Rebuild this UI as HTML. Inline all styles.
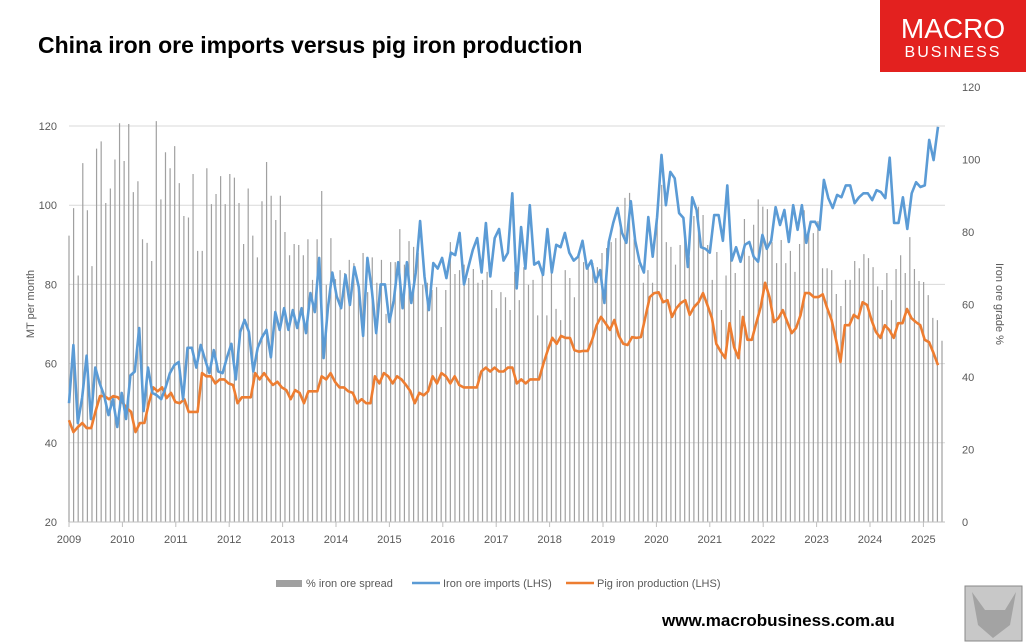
<!DOCTYPE html>
<html><head><meta charset="utf-8"><style>
body{margin:0;background:#fff;font-family:"Liberation Sans",sans-serif;}
#wrap{position:relative;width:1026px;height:644px;overflow:hidden;}
</style></head><body>
<div id="wrap">
<svg id="chart" width="1026" height="644"></svg>
</div>
<script>
const yearLabels=["2009","2010","2011","2012","2013","2014","2015","2016","2017","2018","2019","2020","2021","2022","2023","2024","2025"];
const leftTicks=[20,40,60,80,100,120];
const rightTicks=[0,20,40,60,80,100,120];
const imports=[50,64.7,45,51.5,62,46,59,55,52,47,51,44,52.6,46,57,58,69,48,59,52.6,52,51,54,57.6,59.6,60.4,51,64,64,59,64.7,61,57.6,63.4,58,57.6,61.6,65,56,68,71,68,58,64,66.7,68.5,61.6,73,68.5,74,68.5,
73.5,69,74,67.7,77.8,73,86.7,61.4,74,83,77,74,82.4,74.8,84.4,79.4,67,86.7,78.6,67.7,80,80,70.5,76,85.6,74,85.6,75.3,82.9,96,82,73.5,85.4,84,86.7,81.6,88,87.4,93,80,84.4,88.7,91.7,83,95.5,82,91.7,94,86,88,103,79,94.5,84,
100,85,85.7,82.4,94,83,90,89.4,93,88,86,87,91,84,86,80.6,83.6,75.3,90.7,95.5,99.3,93,90.5,101,91,85.7,83,97,87,97,112.7,100,108.4,106.8,98,96.8,84.4,102,98.8,89.4,89,88,97.5,97.5,91,105,86,89.4,
85.7,90,90.7,87,85.7,92.5,89,91,99.5,95,98.8,90.7,100,93.8,100,90.5,95.8,95.8,93.8,106.4,101.8,99.3,102.6,102,105,105,100.5,102,103,103,101.3,103.8,103.3,101.8,112,95.5,95.5,102,94,103,105.8,104.6,105,116.5,111.4,119.8];
const pigIron=[45.7,42.7,44,45,43.7,43.7,48,51.8,51.8,51,51.8,51.5,50.3,48.8,47.8,42.7,45,45,50,54,53,54,51.3,52.6,50.3,50,51,47.8,47.8,47.8,57.6,56.8,56.8,55,56,56,55,54.6,50,51.5,51.5,51.5,57.6,56,57.6,56,54.6,55.4,54,53.3,51,
53.3,52.6,50,53,53,53,56.8,56,57.6,55.4,54,54,53,52.6,50,51,50,50,56.8,55,57.6,56.8,55,56.8,56,54.6,53,50,52.6,52,53,56.8,55,57.6,56.8,55,56.8,54.6,54,54,54,54,58,59,58,59,58,58,59,59,55,56,
55,56,56,56,60,63.4,66.5,65,67,66.5,66.5,63.4,63,63.2,63.2,66,69.7,71.8,70.2,68.5,71,67,65,64.7,66.7,66.5,66.7,71.8,76.8,77.8,78,75.5,76,71.8,74,75.3,76,72.3,74.3,75.5,77.8,74.8,71.5,65,63,61.4,70.2,
64.2,61.4,71.8,66,66,70.2,74.3,80.4,76.8,70.5,71.5,73.5,70.5,67.7,69,72.3,77.8,77.8,76.8,76.8,77.5,74,71,66,60.4,69.7,69.7,72.3,71.5,75.5,74.8,71,68,66.5,69.7,68.5,66.5,70.2,70.2,73.8,71.5,70.5,69.7,66,65.4,62.6,59.6];
const spread=[79,86.6,68,99,86,70.6,103,105,88,92,100,110,99.6,109.8,91,94,78,77,72,110.6,89,102,97.6,103.7,93.5,84.4,84,96,74.8,74.8,97.6,87.7,90.5,95.4,87.7,96,95,88,76.7,92,79,73,88.5,99.3,90,83.3,90,80,73.6,76.7,
76.4,73.6,78,66.8,78,91.3,65.4,78.3,67,69.5,68.7,72.3,71.4,64,74.2,63.4,73,66,72.3,57.4,71.7,71.7,80.8,71,77.5,75.9,74.2,65.4,66,64,64.8,53.8,64,77.2,68.4,69.5,71,67.3,69.8,66,66.8,69,64,59,63.4,62,58.5,69,61.2,70.3,65.4,66.8,57,69.5,
57,69,58.8,55.7,69.5,67.3,62,74.2,71.7,70.3,71.4,70.3,74.2,75.6,77.2,78.3,81,89.4,90.8,78,71,66,69.5,66,83.8,93,77.2,75.9,71,76.4,80,73,84.4,87,84.7,76.4,66.8,74.5,58.5,68,77,
68.7,58.5,83.6,73.4,82,89,87,86.3,77.2,71.4,77.8,71.4,74.8,69,76.7,86,80,79.7,83,70,70,69.5,62.9,59.6,66.8,66.8,72,70,73.9,72.8,70.3,65,64,68.7,61.2,69.8,73.6,68.7,78.6,69.8,66.5,66.2,62.6,56.3,55.7,50];

const NS="http://www.w3.org/2000/svg";
const svg=document.getElementById('chart');
function mk(tag,attrs,parent){const e=document.createElementNS(NS,tag);for(const k in attrs)e.setAttribute(k,attrs[k]);(parent||svg).appendChild(e);return e;}
const X0=69,X1=945,yearW=53.4;
const yL=v=>522-(v-20)*3.96;
const yR=v=>522-v*3.625;
const xIdx=(i,n,end)=>X0+i*(end-X0)/(n-1);

// gridlines
leftTicks.forEach(t=>{
 const g=mk('line',{x1:X0,x2:X1,y1:yL(t),y2:yL(t),stroke:'#d9d9d9','stroke-width':1});
 
 
 const tx=mk('text',{x:57,y:yL(t)+4,'text-anchor':'end','font-size':11,fill:'#595959'});
 tx.textContent=t;
 
 
});
rightTicks.forEach(t=>{
 const tx=mk('text',{x:962,y:yR(t)+4,'font-size':11,fill:'#595959'});
 tx.textContent=t;
 
 
});
// bars
spread.forEach((v,i)=>{
 const x=xIdx(i,spread.length,942);
 const b=mk('line',{x1:x,x2:x,y1:522,y2:yR(v),stroke:'#a0a0a0','stroke-width':1.2});
 
 
});
// x axis
const ax=mk('line',{x1:X0,x2:X1,y1:522,y2:522,stroke:'#bfbfbf'});


yearLabels.forEach((l,i)=>{
 const x=X0+i*yearW;
 mk('line',{x1:x,x2:x,y1:522,y2:527,stroke:'#bfbfbf'});
 const t=mk('text',{x:x,y:543,'text-anchor':'middle','font-size':11,fill:'#595959'});
 t.textContent=l;
 
 
});
function line(data,color,name,end){
 const pts=data.map((v,i)=>xIdx(i,data.length,end).toFixed(1)+','+yL(v).toFixed(1)).join(' ');
 const p=mk('polyline',{points:pts,fill:'none',stroke:color,'stroke-width':2.6,'stroke-linejoin':'round'});
 
 
}
line(pigIron,'#ed7d31','pig-iron-line',938);
line(imports,'#5b9bd5','iron-ore-imports-line',938);

// axis titles
const lt=mk('text',{x:0,y:0,'font-size':11,fill:'#595959','text-anchor':'middle',transform:'translate(34,304) rotate(-90)'});
lt.textContent='MT per month';


const rt=mk('text',{x:0,y:0,'font-size':11,fill:'#595959','text-anchor':'middle',transform:'translate(996,304) rotate(90)'});
rt.textContent='Iron ore grade %';


</script>
<svg style="position:absolute;left:0;top:0" width="1026" height="644">
<text x="38" y="53" font-size="23" font-weight="bold" fill="#000" font-family="Liberation Sans,sans-serif">China iron ore imports versus pig iron production</text>
<rect x="880" y="0" width="146" height="72" fill="#e3211f"/>
<text x="953" y="38" font-size="28" fill="#fff" text-anchor="middle" font-family="Liberation Sans,sans-serif">MACRO</text>
<text x="953" y="57" font-size="16" fill="#fff" text-anchor="middle" letter-spacing="2" font-family="Liberation Sans,sans-serif">BUSINESS</text>
<g font-size="11" fill="#595959" font-family="Liberation Sans,sans-serif">
<rect x="276" y="580" width="26" height="7" fill="#a0a0a0"/>
<text x="306" y="587">% iron ore spread</text>
<line x1="412" y1="583" x2="440" y2="583" stroke="#5b9bd5" stroke-width="2.6"/>
<text x="443" y="587">Iron ore imports (LHS)</text>
<line x1="566" y1="583" x2="594" y2="583" stroke="#ed7d31" stroke-width="2.6"/>
<text x="597" y="587">Pig iron production (LHS)</text>
</g>
<text x="662" y="626" font-size="17" font-weight="bold" fill="#000" font-family="Liberation Sans,sans-serif">www.macrobusiness.com.au</text>
<rect x="965" y="586" width="57" height="55" fill="#c8c8c8" stroke="#888"/>
<path d="M972 592 L985 610 L1005 610 L1016 592 L1010 625 L993 638 L978 625 Z" fill="#8a8a8a" opacity="0.6"/>
</svg>
</body></html>
